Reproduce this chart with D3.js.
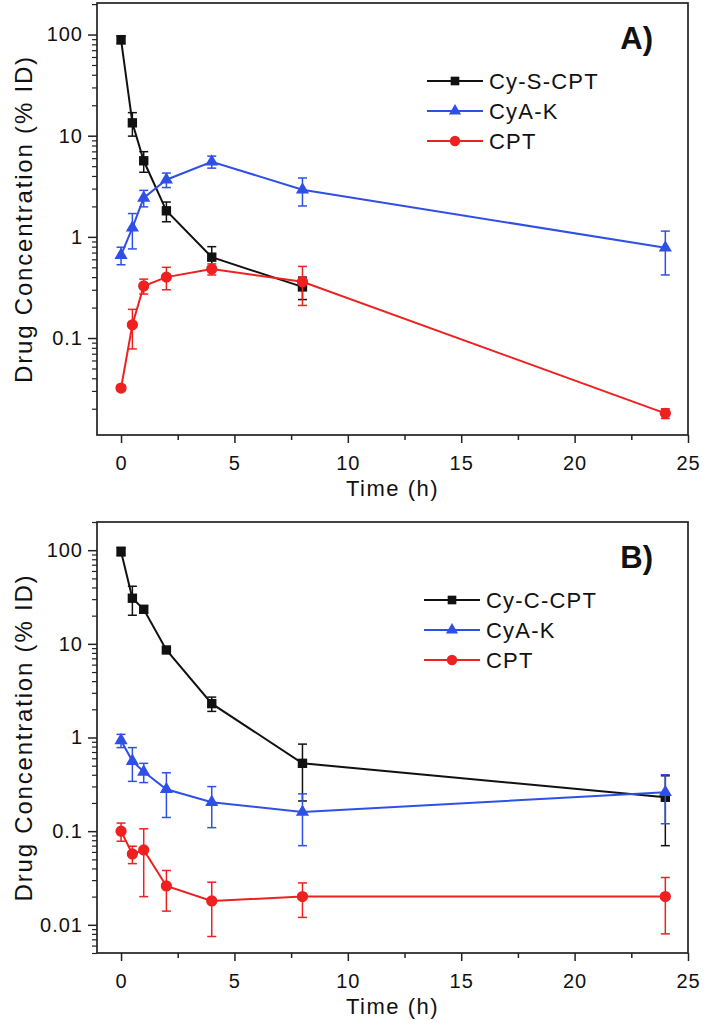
<!DOCTYPE html>
<html><head><meta charset="utf-8">
<script src="https://cdn.jsdelivr.net/npm/d3@7"></script>
<style>body{margin:0;background:#fff}svg{display:block}text{font-family:Arial,"Liberation Sans",sans-serif;fill:#111}</style>
</head><body>
<script>
// ---- data ----
const timesA = [0, 0.5, 1, 2, 4, 8, 24];
const timesA_prodrug = [0, 0.5, 1, 2, 4, 8];
const cySCPT = [89, 13.4, 5.65, 1.81, 0.63, 0.32];
const cySCPTErr = [8, 3.5, 1.3, 0.4, 0.17, 0.08];
const cyAK_A = [0.66, 1.23, 2.43, 3.67, 5.53, 2.92, 0.78];
const cyAK_AErr = [0.13, 0.47, 0.45, 0.6, 0.75, 0.9, 0.36];
const cptA = [0.032, 0.135, 0.327, 0.40, 0.48, 0.36, 0.018];
const cptAErr = [0.002, 0.057, 0.055, 0.1, 0.06, 0.15, 0.002];

const timesB = [0, 0.5, 1, 2, 4, 8, 24];
const cyCCPT = [97, 30.7, 23.4, 8.6, 2.3, 0.53, 0.23];
const cyCCPTErr = [10, 10.5, 2, 0.5, 0.4, 0.32, 0.16];
const cyAK_B = [0.93, 0.56, 0.43, 0.28, 0.204, 0.16, 0.26];
const cyAK_BErr = [0.15, 0.22, 0.1, 0.14, 0.095, 0.09, 0.14];
const cptB = [0.1, 0.057, 0.063, 0.026, 0.018, 0.020, 0.020];
const cptBErr = [0.022, 0.012, 0.043, 0.012, 0.0105, 0.008, 0.012];

const xTicks = [0, 5, 10, 15, 20, 25];
const xMinorTicks = [2.5, 7.5, 12.5, 17.5, 22.5];
const yTicksA = [100, 10, 1, 0.1];
const yTicksB = [100, 10, 1, 0.1, 0.01];
const legendA = ["Cy-S-CPT", "CyA-K", "CPT"];
const legendB = ["Cy-C-CPT", "CyA-K", "CPT"];
const xTitle = "Time (h)";
const yTitle = "Drug Concentration (% ID)";

const COLORS = ["#111111", "#2f50e6", "#ee2020"];
const SHAPES = [d3.symbolSquare, d3.symbolTriangle, d3.symbolCircle];
const SIZES = [88, 75, 100];
const FONT = "Arial, Liberation Sans, sans-serif";

const W = 712, H = 1029;
const svg = d3.select("body").append("svg").attr("width", W).attr("height", H);

function panel(o) {
  const g = svg.append("g");
  const x = d3.scaleLinear().domain([-1.06, 25]).range([o.left, o.right]);
  const y = d3.scaleLog().domain(o.yDomain).range([o.bottom, o.top]);

  // frame
  g.append("rect").attr("x", o.left).attr("y", o.top)
    .attr("width", o.right - o.left).attr("height", o.bottom - o.top)
    .attr("fill", "none").attr("stroke", "#222").attr("stroke-width", 1.7);

  // x axis
  const xa = g.append("g").attr("transform", `translate(0,${o.bottom})`)
    .call(d3.axisBottom(x).tickValues(xTicks).tickSize(8).tickPadding(13).tickFormat(d3.format("d")));
  xa.select(".domain").remove();
  xa.selectAll("line").attr("stroke", "#222").attr("stroke-width", 1.5);
  xa.selectAll("text").attr("font-size", 20).attr("fill", "#111").attr("font-family", FONT)
    .attr("letter-spacing", 1);
  const xm = g.append("g").attr("transform", `translate(0,${o.bottom})`)
    .call(d3.axisBottom(x).tickValues(xMinorTicks).tickSize(5).tickFormat(""));
  xm.select(".domain").remove();
  xm.selectAll("line").attr("stroke", "#222").attr("stroke-width", 1.5);

  // y axis
  const ya = g.append("g").attr("transform", `translate(${o.left},0)`)
    .call(d3.axisLeft(y).tickValues(o.yTicks).tickSize(9).tickPadding(5).tickFormat(d => String(d)));
  ya.select(".domain").remove();
  ya.selectAll("line").attr("stroke", "#222").attr("stroke-width", 1.5);
  ya.selectAll("text").attr("font-size", 20).attr("fill", "#111").attr("font-family", FONT)
    .attr("letter-spacing", 1);
  const minor = y.ticks().filter(v => {
    const m = v / Math.pow(10, Math.floor(Math.log10(v) + 1e-9));
    return Math.abs(m - 1) > 1e-6;
  }).filter(v => v >= o.yDomain[0] && v <= o.yDomain[1]);
  const ym = g.append("g").attr("transform", `translate(${o.left},0)`)
    .call(d3.axisLeft(y).tickValues(minor).tickSize(5).tickFormat(""));
  ym.select(".domain").remove();
  ym.selectAll("line").attr("stroke", "#222").attr("stroke-width", 1.2);

  // titles
  g.append("text").attr("x", (o.left + o.right) / 2).attr("y", o.bottom + 61)
    .attr("text-anchor", "middle").attr("font-size", 22).attr("letter-spacing", 1.5).text(xTitle);
  g.append("text").attr("transform", `translate(32,${(o.top + o.bottom) / 2}) rotate(-90)`)
    .attr("text-anchor", "middle").attr("font-size", 24).attr("letter-spacing", 1.8).text(yTitle);
  g.append("text").attr("x", o.right - 35).attr("y", o.top + 46)
    .attr("text-anchor", "end").attr("font-size", 31).attr("font-weight", "bold").text(o.label);

  // series
  const line = d3.line().x(d => x(d.t)).y(d => y(d.v));
  o.series.forEach((s, i) => {
    const pts = s.times.map((t, k) => ({ t, v: s.values[k], e: s.errs[k] }));
    const sg = g.append("g");
    sg.append("path").datum(pts).attr("d", line).attr("fill", "none")
      .attr("stroke", COLORS[i]).attr("stroke-width", 2);
    pts.forEach(p => {
      const lo = Math.max(p.v - p.e, o.yDomain[0]);
      const hi = p.v + p.e;
      const cx = x(p.t);
      sg.append("line").attr("x1", cx).attr("x2", cx).attr("y1", y(lo)).attr("y2", y(hi))
        .attr("stroke", COLORS[i]).attr("stroke-width", 1.5);
      [hi, lo].forEach(v => {
        if (v === o.yDomain[0]) return;
        sg.append("line").attr("x1", cx - 4.5).attr("x2", cx + 4.5).attr("y1", y(v)).attr("y2", y(v))
          .attr("stroke", COLORS[i]).attr("stroke-width", 1.5);
      });
    });
    sg.selectAll("path.m").data(pts).join("path").attr("class", "m")
      .attr("transform", p => `translate(${x(p.t)},${y(p.v)})`)
      .attr("d", d3.symbol().type(SHAPES[i]).size(SIZES[i]))
      .attr("fill", COLORS[i]);
  });

  // legend
  o.legend.forEach((name, i) => {
    const ly = o.top + o.legendY + i * 30;
    const lx = o.legendX;
    g.append("line").attr("x1", lx).attr("x2", lx + 56).attr("y1", ly).attr("y2", ly)
      .attr("stroke", COLORS[i]).attr("stroke-width", 2);
    g.append("path").attr("transform", `translate(${lx + 28},${ly})`)
      .attr("d", d3.symbol().type(SHAPES[i]).size(SIZES[i] * 0.85)).attr("fill", COLORS[i]);
    g.append("text").attr("x", lx + 62).attr("y", ly + 8).attr("font-size", 22)
      .attr("letter-spacing", 1.2).text(name);
  });
}

panel({
  left: 97, right: 688, top: 3, bottom: 435, yDomain: [0.011, 205], yTicks: yTicksA,
  label: "A)", legend: legendA, legendX: 427, legendY: 78,
  series: [
    { times: timesA_prodrug, values: cySCPT, errs: cySCPTErr },
    { times: timesA, values: cyAK_A, errs: cyAK_AErr },
    { times: timesA, values: cptA, errs: cptAErr }
  ]
});
panel({
  left: 97, right: 688, top: 522, bottom: 953, yDomain: [0.005, 200], yTicks: yTicksB,
  label: "B)", legend: legendB, legendX: 424, legendY: 78,
  series: [
    { times: timesB, values: cyCCPT, errs: cyCCPTErr },
    { times: timesB, values: cyAK_B, errs: cyAK_BErr },
    { times: timesB, values: cptB, errs: cptBErr }
  ]
});
</script>
</body></html>
